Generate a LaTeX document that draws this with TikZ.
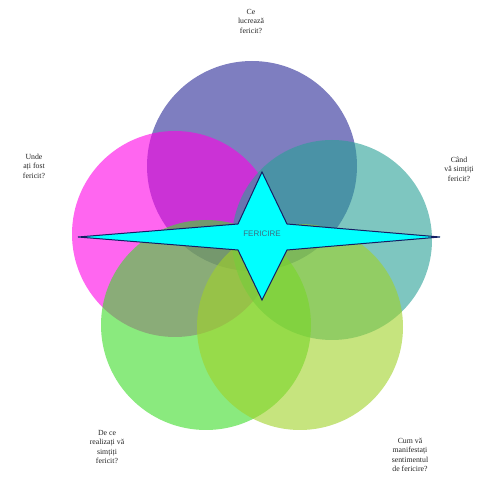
\documentclass[tikz,border=0pt]{standalone}
\usepackage{fontspec}
\setmainfont{Liberation Serif}
\setsansfont{Liberation Sans}
\begin{document}
\begin{tikzpicture}[x=1pt,y=-1pt,
  petal/.style={opacity=0.6},
  lbl/.style={align=center,font=\fontsize{7.8}{9.5}\selectfont,text=black!85},
]
\useasboundingbox (0,0) rectangle (496,478);
\fill[white] (0,0) rectangle (496,478);
\fill[petal, fill={rgb,255:red,40;green,40;blue,150}] (252,166) circle (105);
\fill[petal, fill={rgb,255:red,255;green,0;blue,230}] (175,234) circle (103);
\fill[petal, fill={rgb,255:red,40;green,160;blue,150}] (332,240) circle (100);
\fill[petal, fill={rgb,255:red,60;green,220;blue,40}] (206,325) circle (105);
\fill[petal, fill={rgb,255:red,160;green,210;blue,40}] (300,327) circle (103);
\draw[fill={rgb,255:red,0;green,255;blue,255}, draw={rgb,255:red,20;green,30;blue,100}, line width=1pt]
  (78,237) -- (238,224) -- (262,172) -- (287,224) -- (440,237)
  -- (287,250) -- (262,300) -- (238,250) -- cycle;
\node[font=\sffamily\fontsize{8}{9}\selectfont, text={rgb,255:red,60;green,110;blue,130}] (c) at (262,234) {FERICIRE};
\node[lbl] (t1) at (251,21) {Ce\\lucrează\\fericit?};
\node[lbl] (t2) at (34,166) {Unde\\ați fost\\fericit?};
\node[lbl] (t3) at (459,169) {Când\\vă simțiți\\fericit?};
\node[lbl] (t4) at (107,447) {De ce\\realizați vă\\simțiți\\fericit?};
\node[lbl] (t5) at (410,455) {Cum vă\\manifestați\\sentimentul\\de fericire?};
\end{tikzpicture}
\end{document}
